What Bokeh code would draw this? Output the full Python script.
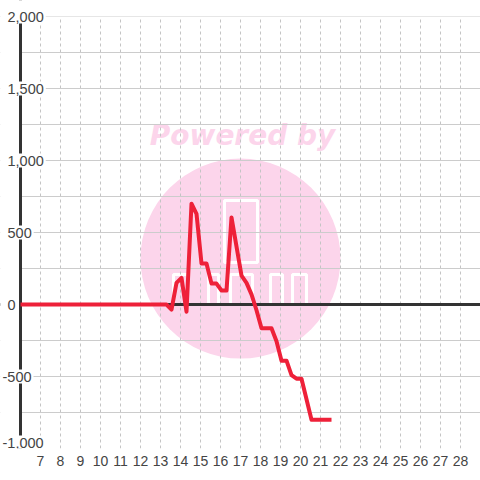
from bokeh.plotting import figure
from bokeh.models import FixedTicker, Span, Label, Grid, BoxAnnotation
from bokeh.core.properties import value
from bokeh.embed import file_html
from bokeh.resources import INLINE

# ---- data ----
hours = [6.0, 13.3, 13.55, 13.8, 14.05, 14.3, 14.55, 14.8, 15.05, 15.3, 15.55, 15.8,
         16.05, 16.3, 16.55, 17.05, 17.3, 17.55, 17.8, 18.05, 18.55, 18.8, 19.05,
         19.3, 19.55, 19.8, 20.05, 20.55, 21.55]
values = [0, 0, -35, 150, 185, -50, 700, 630, 285, 285, 145, 145,
          97, 97, 605, 200, 150, 70, -40, -165, -165, -255, -390,
          -390, -490, -515, -515, -800, -800]

x_ticks = [7, 8, 9, 10, 11, 12, 13, 14, 15, 16, 17, 18, 19, 20, 21, 22, 23, 24, 25, 26, 27, 28]
y_ticks = [-1000, -500, 0, 500, 1000, 1500, 2000]
y_labels = ["-1,000", "-500", "0", "500", "1,000", "1,500", "2,000"]
y_grid = [-1000, -750, -500, -250, 0, 250, 500, 750, 1000, 1250, 1500, 1750, 2000]
x_start, x_end = 6, 29
y_min, y_max = -1000, 2000

FONT = "Liberation Sans"
TEXT = "#444444"
PINK = "#fcd5eb"

# frame extended 16px above the top value so the top label is not clipped
y_pad_top = 16 * (y_max - y_min) / 432

p = figure(width=480, height=480, x_range=(x_start - 1, x_end), y_range=(y_min, y_max + y_pad_top),
           output_backend="svg", toolbar_location=None, y_axis_location=None,
           min_border_left=0, min_border_right=0, min_border_top=0, min_border_bottom=32,
           background_fill_color="white", border_fill_color="white", outline_line_color=None)

# watermark (decoration)
p.scatter(x=[17.0], y=[319], size=200, marker="circle", fill_color=PINK,
          line_color=None, level="image")
p.rect(x=[17.025], y=[507], width=[33], height=[62], width_units="screen", height_units="screen",
       fill_color=None, line_color="white", line_width=3, level="image")
p.rect(x=[14.0, 15.65, 17.05, 18.8, 19.95], y=[104] * 5, width=[14, 10, 22, 12, 14],
       height=[30] * 5, width_units="screen", height_units="screen",
       fill_color=None, line_color="white", line_width=3, level="image")
p.text(x=[17.1], y=[1174], text=["Powered by"], text_font=value("DejaVu Sans"),
       text_font_style="bold italic", text_font_size="28px", text_color=PINK,
       text_align="center", text_baseline="middle", level="image")

# grids
p.xgrid.ticker = FixedTicker(ticks=x_ticks)
p.xgrid.grid_line_color = "#c4c4c4"
p.xgrid.grid_line_dash = "3 3"
p.ygrid.visible = False
yg = Grid(dimension=1, ticker=FixedTicker(ticks=y_grid), grid_line_color="#cccccc")
p.add_layout(yg, "center")

# x axis
ax = p.xaxis[0]
ax.ticker = FixedTicker(ticks=x_ticks)
ax.axis_line_color = None
ax.major_tick_line_color = None
ax.minor_tick_line_color = None
ax.major_tick_out = 0
ax.major_tick_in = 0
ax.major_label_standoff = 7
ax.major_label_text_font_size = "14px"
ax.major_label_text_font = FONT
ax.major_label_text_color = TEXT

# zero line, masks, axis line
p.add_layout(Span(location=0, dimension="width", line_color="#333333", line_width=3,
                  level="underlay"))
p.add_layout(BoxAnnotation(right=x_start, fill_color="white", fill_alpha=1.0,
                           line_color=None, level="underlay"))
p.add_layout(Span(location=x_start, dimension="height", line_color="#333333", line_width=3,
                  level="underlay"))
p.add_layout(BoxAnnotation(bottom=y_max, fill_color="white", fill_alpha=1.0,
                           line_color=None, level="underlay"))

# series
p.line(hours, values, line_color="#ee2139", line_width=4, line_join="round")

# y labels
for v, lab in zip(y_ticks, y_labels):
    p.add_layout(Label(x=x_start, y=v, x_offset=(-20 if v < 0 else -15),
                       y_offset=(6 if v == y_min else 0), text=lab,
                       text_align="left", text_baseline="middle", text_font=FONT,
                       text_font_size="14.5px", text_color=TEXT,
                       background_fill_color="white", padding=2))

open("out.html", "w").write(file_html(p, INLINE))
